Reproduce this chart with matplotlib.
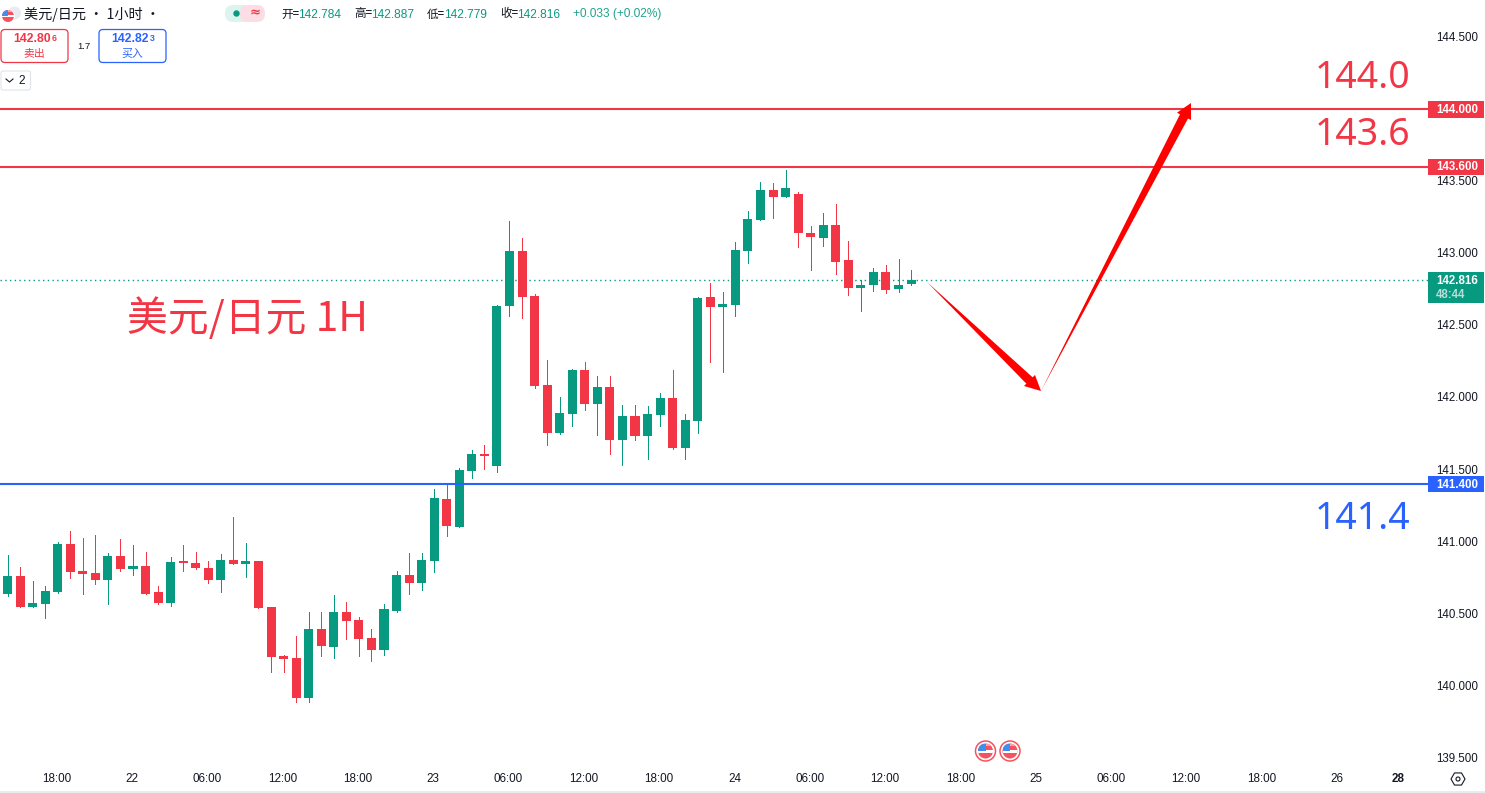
import matplotlib
matplotlib.use("Agg")
import matplotlib.pyplot as plt
from matplotlib.patches import FancyBboxPatch, Polygon, Circle, Rectangle, RegularPolygon
from matplotlib.transforms import ScaledTranslation

plt.rcParams['font.family'] = ['Noto Sans CJK SC', 'DejaVu Sans']

opens = [140.637,140.761,140.547,140.568,140.651,140.984,140.797,140.783,140.734,140.901,
         140.810,140.831,140.651,140.575,140.859,140.852,140.817,140.734,140.873,140.845,
         140.866,140.547,140.207,140.193,139.916,140.394,140.270,140.512,140.457,140.332,
         140.249,140.519,140.769,140.713,140.866,141.296,141.102,141.490,141.608,141.525,
         142.634,143.016,142.703,142.086,141.753,141.885,142.191,141.954,142.072,141.705,
         141.871,141.732,141.878,141.996,141.649,141.836,142.697,142.627,142.641,143.016,
         143.230,143.438,143.390,143.411,143.140,143.106,143.196,142.953,142.759,142.780,
         142.870,142.752,142.784]
highs = [140.907,140.824,140.727,140.693,140.998,141.074,141.025,141.046,140.921,141.019,
         140.977,140.928,140.693,140.894,140.977,140.928,140.866,140.914,141.171,140.991,
         140.866,140.547,140.214,140.346,140.512,140.512,140.630,140.582,140.478,140.394,
         140.568,140.797,140.921,140.921,141.365,141.400,141.511,141.636,141.670,142.641,
         143.224,143.106,142.717,142.260,142.003,142.198,142.246,142.149,142.149,141.947,
         141.947,141.940,142.031,142.191,141.885,142.697,142.794,142.731,143.078,143.293,
         143.494,143.487,143.577,143.424,143.189,143.279,143.341,143.085,142.815,142.898,
         142.918,142.960,142.887]
lows = [140.623,140.547,140.547,140.471,140.644,140.748,140.637,140.706,140.568,140.797,
        140.769,140.637,140.568,140.554,140.797,140.810,140.713,140.651,140.845,140.755,
        140.540,140.096,140.096,139.888,139.888,140.207,140.193,140.325,140.207,140.172,
        140.214,140.512,140.637,140.665,140.790,141.039,141.102,141.442,141.504,141.483,
        142.565,142.551,142.065,141.670,141.746,141.802,141.913,141.739,141.608,141.532,
        141.705,141.573,141.802,141.643,141.573,141.753,142.246,142.176,142.565,142.932,
        143.230,143.244,143.390,143.043,142.884,143.050,142.856,142.711,142.600,142.738,
        142.724,142.731,142.779]
closes = [140.761,140.547,140.575,140.658,140.984,140.790,140.776,140.734,140.901,140.810,
          140.831,140.637,140.575,140.859,140.852,140.817,140.734,140.873,140.845,140.866,
          140.540,140.200,140.186,139.916,140.394,140.277,140.512,140.450,140.325,140.249,
          140.533,140.769,140.713,140.873,141.303,141.109,141.497,141.608,141.594,142.634,
          143.016,142.697,142.079,141.753,141.892,142.191,141.954,142.072,141.705,141.871,
          141.732,141.885,141.996,141.649,141.843,142.690,142.627,142.648,143.022,143.237,
          143.438,143.390,143.452,143.140,143.113,143.196,142.939,142.759,142.780,142.870,
          142.745,142.780,142.816]

level_prices = [144.0, 143.6, 141.4]
level_names = ['144.0', '143.6', '141.4']
last_price = 142.816
price_ticks = [144.5, 143.5, 143.0, 142.5, 142.0, 141.5, 141.0, 140.5, 140.0, 139.5]
time_positions = [4, 10, 16, 22, 28, 34, 40, 46, 52, 58, 64, 70, 76, 82, 88, 94, 100, 106, 110.9]
time_labels = ['18:00','22','06:00','12:00','18:00','23','06:00','12:00','18:00','24',
               '06:00','12:00','18:00','25','06:00','12:00','18:00','26','28']

GREEN, RED, BLUE = '#089981', '#F23645', '#2962FF'
TXT = '#131722'
W, H = 1485, 793

fig = plt.figure(figsize=(W/100, H/100), dpi=100, facecolor='white')
ax = fig.add_axes([0, 1-766/H, 1428/W, 766/H])
ax.set_xlim(-0.598, 113.19)
ax.set_ylim(144.756-0.006935*766, 144.756)
for s in ax.spines.values():
    s.set_visible(False)
ax.tick_params(length=0)
ax.set_yticks([])
ax.set_xticks(time_positions)
ax.set_xticklabels(time_labels, fontsize=8.4, color=TXT, family=['Liberation Sans'])
ax.tick_params(axis='x', pad=5)
shift = ScaledTranslation(-1/100, 0, fig.dpi_scale_trans)
for lab in ax.get_xticklabels():
    lab.set_transform(lab.get_transform() + shift)
ax.get_xticklabels()[-1].set_fontweight('bold')

ax.axhline(last_price, color=GREEN, lw=1, ls=(0, (1, 2.4)), zorder=1)
for p, c in zip(level_prices, [RED, RED, BLUE]):
    ax.axhline(p, color=c, lw=1.5, zorder=4)

for i, (o, h, l, c) in enumerate(zip(opens, highs, lows, closes)):
    col = GREEN if c >= o else RED
    ax.vlines(i, l, h, color=col, lw=0.72, antialiased=False, zorder=2)
    ax.bar(i, max(abs(c-o), 0.012), bottom=min(o, c), width=0.72, color=col, lw=0, zorder=3)

# overlay in screen pixels for the platform chrome
ov = fig.add_axes([0, 0, 1, 1], facecolor='none')
ov.set_xlim(0, W); ov.set_ylim(H, 0); ov.axis('off')
ui = ['Liberation Sans']
cjk = ['Noto Sans CJK SC', 'DejaVu Sans']
big = ['Noto Sans']

# price axis
for p in price_ticks:
    ov.text(1457.5, 109+(144-p)*144.2+1, f'{p:.3f}', fontsize=8.3, color=TXT, ha='center', va='center', family=ui)
for p, c in zip(level_prices, [RED, RED, BLUE]):
    y = 109+(144-p)*144.2
    ov.add_patch(Rectangle((1428, y-8), 56, 16.5, color=c, lw=0))
    ov.text(1457.5, y+0.8, f'{p:.3f}', fontsize=8.3, color='white', fontweight='bold', ha='center', va='center', family=ui)
ov.add_patch(Rectangle((1428, 272), 56, 31, color=GREEN, lw=0))
ov.text(1457.5, 281, f'{last_price:.3f}', fontsize=8.3, color='white', fontweight='bold', ha='center', va='center', family=ui)
ov.text(1451, 295, '48:44', fontsize=8.3, color='#B5E0D8', fontweight='bold', ha='center', va='center', family=ui)

# big annotations
ov.text(1362.5, 78, level_names[0], fontsize=27, color=RED, ha='center', va='center', family=big)
ov.text(1362.5, 135, level_names[1], fontsize=27, color=RED, ha='center', va='center', family=big)
ov.text(1362.5, 519, level_names[2], fontsize=27, color=BLUE, ha='center', va='center', family=big)
ov.text(127, 319, '美元/日元 1H', fontsize=29.4, color=RED, ha='left', va='center', family=cjk)

# arrows
ov.add_patch(Polygon([(927,282),(1032.6,377.3),(1035,375),(1041,391),(1024,386),(1026.4,383.7)],
                     closed=True, color='#FF0000', lw=0, zorder=6))
ov.add_patch(Polygon([(1041,391),(1180,114.3),(1177,112.7),(1191,103),(1191,120),(1188,118.5)],
                     closed=True, color='#FF0000', lw=0, zorder=6))

def flag(cx, cy, r, z=8):
    base = Circle((cx, cy), r, color='#F7525F', lw=0, zorder=z)
    ov.add_patch(base)
    for rect in [Rectangle((cx-r, cy-r*0.1), 2*r, r*0.3, color='white', lw=0, zorder=z+1),
                 Rectangle((cx-r, cy-r), 2*r, r*0.35, color='#F7A4AA', lw=0, zorder=z+1),
                 Rectangle((cx-r, cy-r), r*1.05, r*1.05, color='#3E8FF0', lw=0, zorder=z+2)]:
        ov.add_patch(rect)
        rect.set_clip_path(base)

# header
ov.add_patch(Circle((14.5, 13), 6.5, color='#E8EBF2', lw=0))
ov.add_patch(Circle((8, 16), 6.8, color='white', lw=0))
flag(8, 16, 6)
ov.text(24, 14, '美元/日元 · 1小时 ·', fontsize=10.2, color=TXT, ha='left', va='center', family=cjk)
ov.add_patch(FancyBboxPatch((225, 5), 28, 17, boxstyle='round,pad=0,rounding_size=8', color='#DDF3EF', lw=0))
ov.add_patch(FancyBboxPatch((240, 5), 25, 17, boxstyle='round,pad=0,rounding_size=8', color='#FBDDE3', lw=0))
ov.add_patch(Rectangle((246, 5), 8, 17, color='#FBDDE3', lw=0))
ov.add_patch(Circle((236.5, 13.5), 3.2, color=GREEN, lw=0))
ov.text(255, 13, '≈', fontsize=9.5, color=RED, fontweight='bold', ha='center', va='center', family=['DejaVu Sans'])
for x, lab, val in [(281, '开=', '142.784'), (354, '高=', '142.887'), (427, '低=', '142.779'), (500, '收=', '142.816')]:
    ov.text(x, 14, lab, fontsize=8.4, color=TXT, ha='left', va='center', family=cjk)
    ov.text(x+17, 14.5, val, fontsize=8.6, color=GREEN, ha='left', va='center', family=ui)
ov.text(573, 14.5, '+0.033 (+0.02%)', fontsize=8.6, color=GREEN, alpha=0.9, ha='left', va='center', family=ui)

for bx, bw, col, main, sup, sub, mx, sx, tx in [(1, 67, RED, '142.80', '6', '卖出', 32.5, 54.5, 34.5),
                                                (99, 67, BLUE, '142.82', '3', '买入', 130, 152, 132)]:
    ov.add_patch(FancyBboxPatch((bx, 29.5), bw, 33, boxstyle='round,pad=0,rounding_size=4', fc='white', ec=col, lw=0.9))
    ov.text(mx, 39.5, main, fontsize=8.8, fontweight='bold', color=col, ha='center', va='center', family=ui)
    ov.text(sx, 38.5, sup, fontsize=6.2, fontweight='bold', color=col, ha='center', va='center', family=ui)
    ov.text(tx, 54, sub, fontsize=7.8, color=col, ha='center', va='center', family=cjk)
ov.text(84, 46.5, '1.7', fontsize=6.8, color=TXT, ha='center', va='center', family=ui)
ov.add_patch(FancyBboxPatch((1, 71), 29.5, 19, boxstyle='round,pad=0,rounding_size=2', fc='white', ec='#E0E3EB', lw=0.8))
ov.plot([6, 9.5, 13], [79, 82, 79], color=TXT, lw=0.8)
ov.text(22, 80.5, '2', fontsize=8.6, color=TXT, ha='center', va='center', family=ui)

# event flags
for cx in [985.5, 1010]:
    ov.add_patch(Circle((cx, 751), 10, fc='white', ec='#F7525F', lw=1.1, zorder=7))
    flag(cx, 751, 7.5)

# settings icon and bottom rule
ov.add_patch(RegularPolygon((1458, 779), 6, radius=7, orientation=0.5236, fc='none', ec=TXT, lw=0.8))
ov.add_patch(Circle((1458, 779), 2, fc='none', ec=TXT, lw=0.8))
ov.add_patch(Rectangle((0, 791), W, 2, color='#E9EBEF', lw=0))

fig.savefig('out.png', dpi=100)
